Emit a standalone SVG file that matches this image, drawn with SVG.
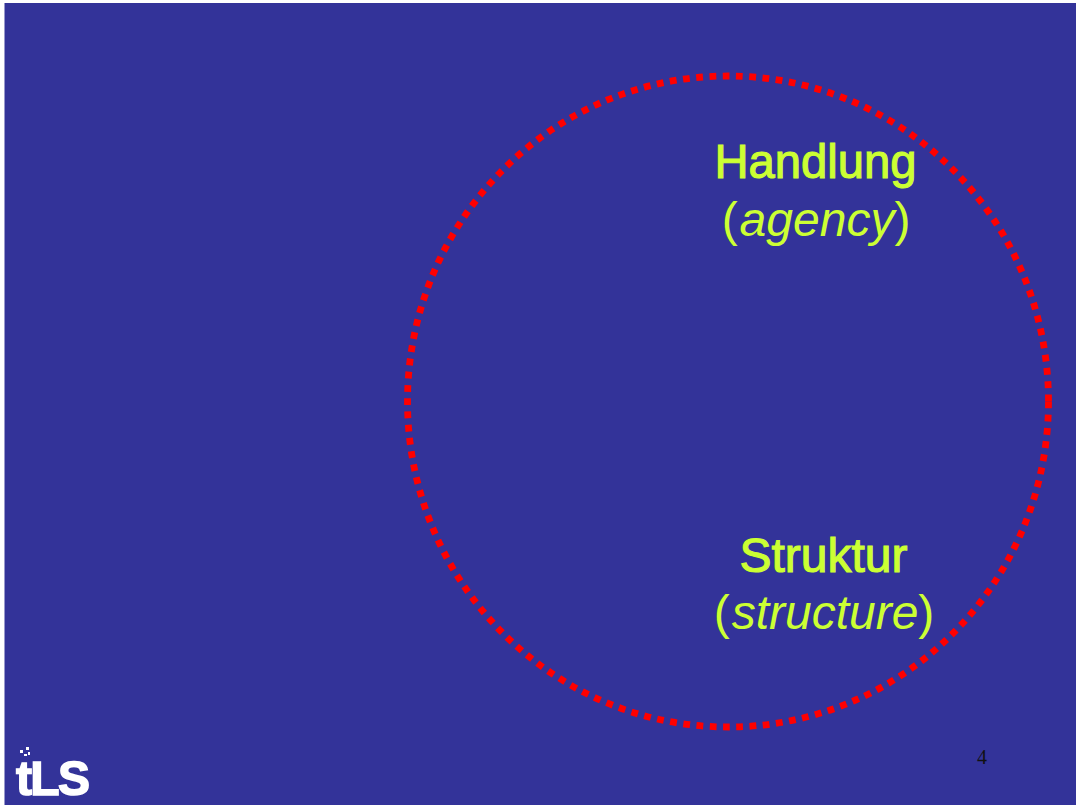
<svg xmlns="http://www.w3.org/2000/svg" width="1076" height="805" viewBox="0 0 1076 805">
<style>
.h{font-family:"Liberation Sans",Arial,sans-serif;font-size:48px;fill:#ccff33;stroke:#ccff33;stroke-width:1.1px}
.s{font-family:"Liberation Sans",Arial,sans-serif;font-size:48px;fill:#ccff33}
.i{font-style:italic}
</style>
<defs><filter id="soft" x="-10%" y="-10%" width="120%" height="120%"><feGaussianBlur stdDeviation="0.700"/></filter></defs>
<rect width="1076" height="805" fill="#fff"/>
<rect x="4.500" y="3" width="1072" height="802" fill="#333399"/>
<g id="connectors"></g>
<g id="ring"><ellipse cx="728" cy="401.500" rx="320.500" ry="325.500" fill="none" stroke="#ff0000" stroke-width="6.800" stroke-dasharray="6.800 6.500"/></g>
<g id="node-handlung">
<text class="h" x="815.500" y="178" text-anchor="middle" textLength="202" lengthAdjust="spacingAndGlyphs">Handlung</text>
<text class="s" x="816" y="236" text-anchor="middle">(<tspan class="i" dx="2">agency</tspan>)</text>
</g>
<g id="node-struktur">
<text class="h" x="823.500" y="572" text-anchor="middle">Struktur</text>
<text class="s" x="824" y="629" text-anchor="middle">(<tspan class="i" dx="2">structure</tspan>)</text>
</g>
<g id="page-number"><text x="982" y="764" text-anchor="middle" font-family="Liberation Serif,Times New Roman,serif" font-size="20" fill="#111">4</text></g>
<g id="logo" fill="#fff" filter="url(#soft)">
<rect x="20" y="750" width="3" height="3"/><rect x="26" y="747" width="3" height="3"/><rect x="24" y="754" width="3" height="2"/><rect x="28" y="752" width="2" height="3"/>
<text x="16" y="794.500" font-family="Liberation Sans,sans-serif" font-weight="700" font-size="48" stroke="#fff" stroke-width="1.500" textLength="74" lengthAdjust="spacing">tLS</text>
</g>
</svg>
